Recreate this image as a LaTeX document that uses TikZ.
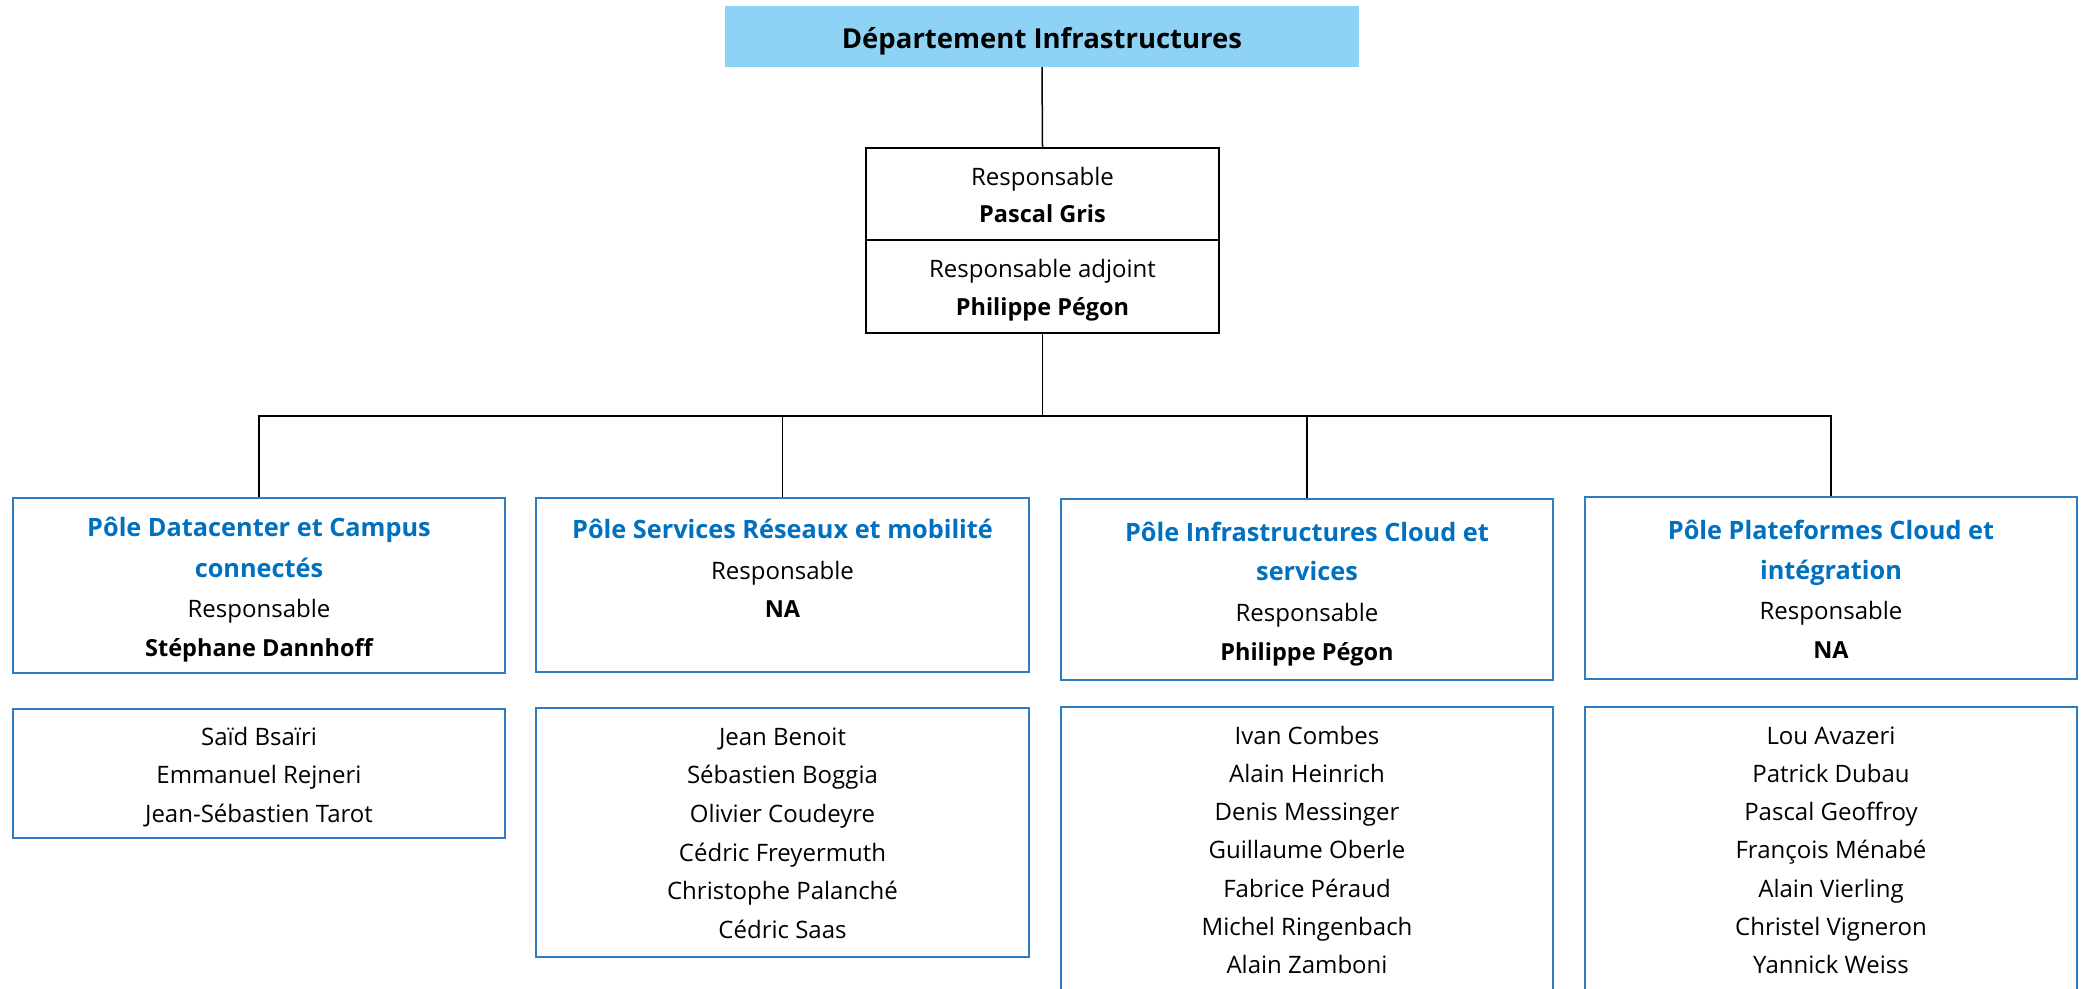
\documentclass[tikz,border=0pt]{standalone}
\usepackage{fontspec}
\setmainfont{Open Sans}
\definecolor{titlefill}{RGB}{142,211,245}
\definecolor{poleblue}{RGB}{0,112,192}
\definecolor{boxblue}{RGB}{46,125,195}
\begin{document}
\begin{tikzpicture}[x=1pt,y=-1pt,
  conn/.style={draw=black,line width=1.5pt},
  blackbox/.style={draw=black,line width=1.6pt,fill=white,inner sep=0pt},
  polebox/.style={draw=boxblue,line width=1.6pt,fill=white,inner sep=0pt},
  titlebox/.style={fill=titlefill,draw=none,inner sep=0pt},
  txt/.style={inner sep=0pt,anchor=base,font=\fontsize{24pt}{28pt}\selectfont},
  btxt/.style={txt,font=\fontsize{23.5pt}{28pt}\selectfont\bfseries},
  ptxt/.style={txt,text=poleblue,font=\fontsize{25.3pt}{30pt}\selectfont\bfseries},
  ttxt/.style={inner sep=0pt,anchor=base,font=\fontsize{27.5pt}{32pt}\selectfont\bfseries}]
\useasboundingbox (0,0) rectangle (2082,988);
\clip (0,0) rectangle (2082,988);

% title
\node[titlebox,minimum width=634pt,minimum height=61pt] (title) at (1042,36.5) {};
\node[ttxt] (titlet) at (1042,48) {Département Infrastructures};

% head box
\node[blackbox,minimum width=353pt,minimum height=185pt] (head) at (1042.5,240.5) {};
\draw[line width=1.8pt] (head.west |- 0,240) coordinate (divl) -- (head.east |- 0,240) coordinate (divr);
\node[txt]  (h1) at (1042.5,185) {Responsable};
\node[btxt] (h2) at (1042.5,222) {Pascal Gris};
\node[txt]  (h3) at (1042.5,277) {Responsable adjoint};
\node[btxt] (h4) at (1042.5,315) {Philippe Pégon};

% pole boxes
\node[polebox,minimum width=492pt,minimum height=175pt] (p1) at (259,585.5) {};
\node[polebox,minimum width=493pt,minimum height=174pt] (p2) at (782.5,585) {};
\node[polebox,minimum width=492pt,minimum height=181pt] (p3) at (1307,589.5) {};
\node[polebox,minimum width=492pt,minimum height=182pt] (p4) at (1831,588) {};

% connectors
\coordinate (bus) at (1042,416);
\draw[conn] (title.south) -- (head.north);
\draw[conn] (head.south) -- (head.south |- bus);
\draw[conn] (p1.north) -- (p1.north |- bus) -- (p4.north |- bus) -- (p4.north);
\draw[conn] (p2.north) -- (p2.north |- bus);
\draw[conn] (p3.north) -- (p3.north |- bus);

% pole texts
\node[ptxt] (p1a) at (259,536) {Pôle Datacenter et Campus};
\node[ptxt] (p1b) at (259,577) {connectés};
\node[txt]  (p1c) at (259,617) {Responsable};
\node[btxt] (p1d) at (259,656) {Stéphane Dannhoff};

\node[ptxt] (p2a) at (782.5,538) {Pôle Services Réseaux et mobilité};
\node[txt]  (p2c) at (782.5,579) {Responsable};
\node[btxt] (p2d) at (782.5,617) {NA};

\node[ptxt] (p3a) at (1307,541) {Pôle Infrastructures Cloud et};
\node[ptxt] (p3b) at (1307,580) {services};
\node[txt]  (p3c) at (1307,621) {Responsable};
\node[btxt] (p3d) at (1307,660) {Philippe Pégon};

\node[ptxt] (p4a) at (1831,539) {Pôle Plateformes Cloud et};
\node[ptxt] (p4b) at (1831,579) {intégration};
\node[txt]  (p4c) at (1831,619) {Responsable};
\node[btxt] (p4d) at (1831,658) {NA};

% member boxes
\node[polebox,minimum width=492pt,minimum height=129pt] (m1) at (259,773.5) {};
\node[polebox,minimum width=493pt,minimum height=249pt] (m2) at (782.5,832.5) {};
\node[polebox,minimum width=492pt,minimum height=320pt] (m3) at (1307,867) {};
\node[polebox,minimum width=492pt,minimum height=320pt] (m4) at (1831,867) {};

\foreach \t [count=\i] in {Saïd Bsaïri,Emmanuel Rejneri,Jean-Sébastien Tarot}
  \node[txt] (m1-\i) at (259,{745+38.5*(\i-1)}) {\t};
\foreach \t [count=\i] in {Jean Benoit,Sébastien Boggia,Olivier Coudeyre,Cédric Freyermuth,Christophe Palanché,Cédric Saas}
  \node[txt] (m2-\i) at (782.5,{745+38.7*(\i-1)}) {\t};
\foreach \t [count=\i] in {Ivan Combes,Alain Heinrich,Denis Messinger,Guillaume Oberle,Fabrice Péraud,Michel Ringenbach,Alain Zamboni}
  \node[txt] (m3-\i) at (1307,{744+38.3*(\i-1)}) {\t};
\foreach \t [count=\i] in {Lou Avazeri,Patrick Dubau,Pascal Geoffroy,François Ménabé,Alain Vierling,Christel Vigneron,Yannick Weiss}
  \node[txt] (m4-\i) at (1831,{744+38.3*(\i-1)}) {\t};
\end{tikzpicture}
\end{document}
